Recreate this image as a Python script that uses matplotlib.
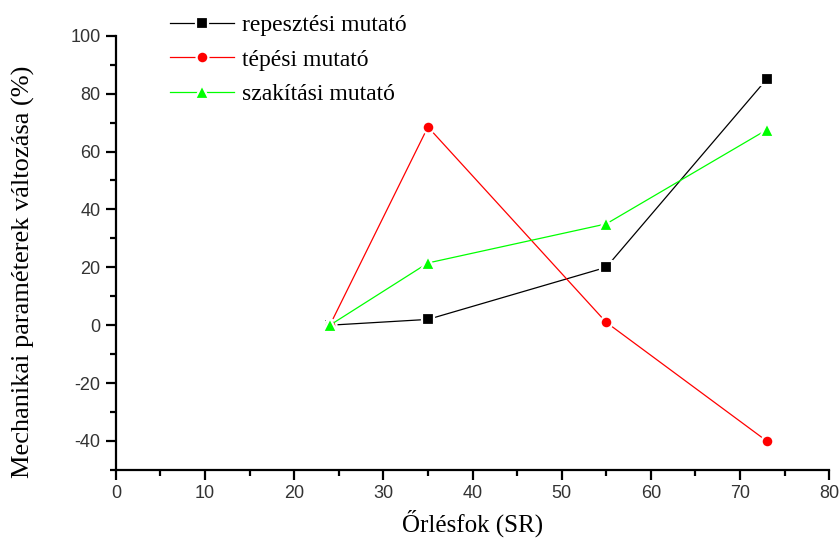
import matplotlib.pyplot as plt
from matplotlib.ticker import MultipleLocator

# grinding degree (SR) and relative change of the mechanical parameters (%)
srfok = [24, 35, 55, 73]
repesztesi = [0, 2, 20, 85]
tepesi = [0, 68.5, 1, -40]
szakitasi = [0, 21.5, 35, 67.5]

x_ticks = [0, 10, 20, 30, 40, 50, 60, 70, 80]
y_ticks = [-40, -20, 0, 20, 40, 60, 80, 100]

plt.rcParams["axes.unicode_minus"] = False


def main():
    fig = plt.figure(figsize=(8.4, 5.42), dpi=100)
    ax = fig.add_axes([0.138, 0.133, 0.849, 0.801])

    series = [
        (repesztesi, "black", "s", 8, "repesztési mutató"),
        (tepesi, "#ff0000", "o", 8.5, "tépési mutató"),
        (szakitasi, "#00ff00", "^", 10, "szakítási mutató"),
    ]
    for values, color, marker, size, label in series:
        ax.plot(srfok, values, color=color, lw=0.9, marker=marker, ms=size,
                mfc=color, mec="white", mew=1.6, label=label)

    ax.set_xlim(0, 80)
    ax.set_ylim(-50, 100)
    ax.set_xticks(x_ticks)
    ax.set_yticks(y_ticks)
    ax.xaxis.set_minor_locator(MultipleLocator(5))
    ax.yaxis.set_minor_locator(MultipleLocator(10))

    for side in ("top", "right"):
        ax.spines[side].set_visible(False)
    for side in ("left", "bottom"):
        ax.spines[side].set_linewidth(1.6)

    ax.tick_params(which="major", direction="out", length=7, width=1.6,
                   labelsize=13, pad=4, colors="black")
    ax.tick_params(which="minor", direction="out", length=4.5, width=1.6)
    for lbl in ax.get_xticklabels() + ax.get_yticklabels():
        lbl.set_family("Liberation Sans")
        lbl.set_color("#333333")

    ax.set_xlabel("Őrlésfok (SR)", family="Liberation Serif", fontsize=18, labelpad=5)
    ax.set_ylabel("Mechanikai paraméterek változása (%)", family="Liberation Serif",
                  fontsize=19)
    ax.yaxis.set_label_coords(-0.114, 0.456)

    ax.legend(loc="upper left", bbox_to_anchor=(0.183, 1.004), bbox_transform=fig.transFigure,
              frameon=False, prop={"family": "Liberation Serif", "size": 17},
              handlelength=2.7, handletextpad=0.35, labelspacing=0.56, borderpad=0.2)

    fig.savefig("out.png", dpi=100)


if __name__ == "__main__":
    main()
